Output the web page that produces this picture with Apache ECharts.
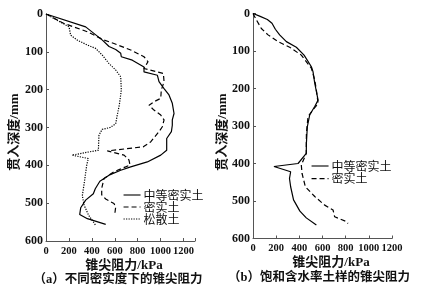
<!DOCTYPE html>
<html><head><meta charset="utf-8">
<script src="https://cdn.jsdelivr.net/npm/echarts@6/dist/echarts.min.js"></script>
<style>html,body{margin:0;padding:0;background:#fff}#c{width:437px;height:293px}</style>
</head><body><div id="c"></div>
<script>
// ---- tick labels ----
const xTickLabels = [0, 200, 400, 600, 800, 1000, 1200];
const yTickLabels = [0, 100, 200, 300, 400, 500, 600];

// ---- chart (a): different compaction ----
const namesA = ['中等密实土', '密实土', '松散土'];
const mediumA_value = [0, 346, 492, 550, 608, 652, 657, 753, 855, 855, 972, 986, 1030, 1073, 1102, 1117, 1102, 1102, 1094, 1053, 1053, 1001, 884, 739, 652, 550, 470, 430, 413, 346, 303, 294, 361, 521];
const mediumA_depth = [0, 34, 69, 86, 94, 104, 113, 122, 140, 153, 162, 179, 197, 214, 236, 263, 280, 294, 311, 329, 360, 373, 391, 404, 413, 426, 442, 462, 475, 492, 512, 530, 541, 556];

const denseA_value = [0, 157, 361, 506, 593, 739, 855, 890, 855, 1024, 1030, 1006, 1001, 942, 899, 942, 1001, 1030, 1015, 986, 913, 849, 535, 681, 724, 733, 695, 593, 506, 486, 486, 521, 593, 608, 599];
const denseA_depth = [0, 25, 47, 69, 78, 95, 113, 126, 144, 157, 179, 201, 223, 232, 241, 254, 267, 280, 298, 311, 338, 351, 362, 373, 386, 399, 404, 417, 435, 461, 478, 489, 501, 510, 532];

const looseA_value = [0, 70, 201, 215, 273, 361, 433, 492, 550, 608, 652, 657, 640, 620, 608, 560, 490, 462, 457, 227, 369, 355, 346, 332, 317, 332, 372, 437];
const looseA_depth = [0, 12, 34, 56, 69, 82, 91, 109, 131, 148, 166, 201, 240, 270, 290, 300, 305, 320, 360, 373, 382, 400, 420, 450, 480, 505, 532, 560];

// ---- chart (b): saturated moisture ----
const namesB = ['中等密实土', '密实土'];
const mediumB_value = [0, 57, 124, 164, 193, 230, 288, 374, 441, 504, 518, 533, 562, 533, 490, 469, 461, 460, 389, 181, 325, 315, 325, 350, 405, 460, 547];
const mediumB_depth = [0, 7, 16, 26, 42, 57, 75, 90, 111, 142, 155, 186, 231, 248, 270, 302, 346, 373, 400, 408, 422, 440, 462, 497, 527, 545, 564];

const denseB_value = [0, 29, 72, 130, 216, 317, 417, 504, 533, 547, 562, 518, 475, 461, 460, 417, 423, 452, 533, 619, 691, 705, 806, 820];
const denseB_depth = [0, 17, 40, 57, 75, 90, 111, 146, 177, 204, 240, 257, 275, 320, 373, 404, 426, 462, 488, 511, 524, 542, 555, 560];

const zip = (a, b) => a.map((v, i) => [v, b[i]]);

const AXIS_COLOR = '#555';
const numFont = '"Liberation Serif", "Noto Sans CJK SC"';

function xAxisCfg(idx, max) {
  return {
    gridIndex: idx, type: 'value', min: 0, max: max, interval: 200,
    axisLine: { show: true, onZero: false, lineStyle: { color: AXIS_COLOR, width: 1 } },
    axisTick: { show: true, inside: true, length: 3, lineStyle: { color: AXIS_COLOR } },
    splitLine: { show: false },
    axisLabel: {
      formatter: v => xTickLabels.includes(v) ? String(v) : '',
      fontFamily: numFont, fontWeight: 'bold', fontSize: 10.5, color: '#111', margin: 5
    }
  };
}
function yAxisCfg(idx) {
  return {
    gridIndex: idx, type: 'value', inverse: true, min: 0, max: 600, interval: 100,
    axisLine: { show: true, onZero: false, lineStyle: { color: AXIS_COLOR, width: 1 } },
    axisTick: { show: true, inside: true, length: 3, lineStyle: { color: AXIS_COLOR } },
    splitLine: { show: false },
    axisLabel: {
      formatter: v => yTickLabels.includes(v) ? String(v) : '',
      fontFamily: numFont, fontWeight: 'bold', fontSize: 12, color: '#111', margin: 3
    }
  };
}
function lineSeries(name, data, idx, type) {
  return {
    name: name, type: 'line', xAxisIndex: idx, yAxisIndex: idx, data: data,
    symbol: 'none', showSymbol: false, animation: false, silent: true,
    lineStyle: { color: '#000', width: 1.2, type: type }, itemStyle: { color: '#000' }
  };
}
const dashType = [5, 3];
const dotType = [1.2, 1.3];

const chart = echarts.init(document.getElementById('c'), null, { renderer: 'canvas' });
const textFont = (size) => 'bold ' + size + 'px "Liberation Serif", "Noto Sans CJK SC"';
const legendCommon = {
  orient: 'vertical', itemWidth: 17, itemHeight: 8, padding: 0, selectedMode: false,
  itemStyle: { opacity: 0, color: 'transparent', borderWidth: 0 },
  lineStyle: { width: 1.1 },
  textStyle: { fontFamily: '"Noto Sans CJK SC"', fontSize: 12, lineHeight: 12, color: '#111', padding: [0, 0, 0, -2] }
};
chart.setOption({
  animation: false,
  backgroundColor: '#fff',
  grid: [
    { left: 46, top: 14, width: 149, height: 227 },
    { left: 253, top: 13.5, width: 139, height: 225 }
  ],
  xAxis: [xAxisCfg(0, 1300), xAxisCfg(1, 1200)],
  yAxis: [yAxisCfg(0), yAxisCfg(1)],
  legend: [
    Object.assign({}, legendCommon, { data: namesA, left: 123, top: 189, itemGap: 0 }),
    Object.assign({}, legendCommon, { data: namesB, left: 311, top: 160, itemGap: 0.6 })
  ],
  series: [
    lineSeries(namesA[0], zip(mediumA_value, mediumA_depth), 0, 'solid'),
    lineSeries(namesA[1], zip(denseA_value, denseA_depth), 0, dashType),
    lineSeries(namesA[2], zip(looseA_value, looseA_depth), 0, dotType),
    lineSeries(namesB[0], zip(mediumB_value, mediumB_depth), 1, 'solid'),
    lineSeries(namesB[1], zip(denseB_value, denseB_depth), 1, dashType)
  ],
  graphic: [
    { type: 'text', x: 15, y: 132, rotation: Math.PI / 2, silent: true,
      style: { text: '贯入深度/mm', font: textFont(13), fill: '#111', align: 'center', verticalAlign: 'middle' } },
    { type: 'text', x: 223, y: 132, rotation: Math.PI / 2, silent: true,
      style: { text: '贯入深度/mm', font: textFont(13), fill: '#111', align: 'center', verticalAlign: 'middle' } },
    { type: 'text', x: 124, y: 266, silent: true,
      style: { text: '锥尖阻力/kPa', font: textFont(13), fill: '#111', align: 'center', verticalAlign: 'middle' } },
    { type: 'text', x: 331, y: 263, silent: true,
      style: { text: '锥尖阻力/kPa', font: textFont(13), fill: '#111', align: 'center', verticalAlign: 'middle' } },
    { type: 'text', x: 118, y: 280, silent: true,
      style: { text: '（a）不同密实度下的锥尖阻力', font: textFont(12.5), fill: '#111', align: 'center', verticalAlign: 'middle' } },
    { type: 'text', x: 319, y: 278, silent: true,
      style: { text: '（b）饱和含水率土样的锥尖阻力', font: textFont(12.5), fill: '#111', align: 'center', verticalAlign: 'middle' } }
  ]
});
</script></body></html>
